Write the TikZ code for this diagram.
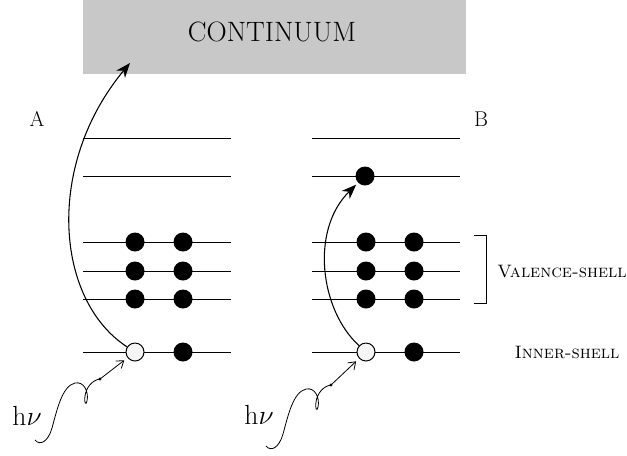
\documentclass[tikz,border=0pt]{standalone}
\usepackage{amsmath}
\usepackage{amssymb}
\usepackage{tikz}
\usetikzlibrary{arrows.meta}

\begin{document}
\begin{tikzpicture}[x=0.75pt,y=0.75pt,yscale=-1,xscale=1,
  level/.style={line width=0.6pt},
  electron/.style={circle,fill=black,inner sep=0pt,minimum size=14.25pt},
  hole/.style={circle,draw=black,fill=white!96!black,line width=0.75pt,inner sep=0pt,minimum size=13.5pt},
  jump/.style={line width=0.8pt,-{Stealth[length=11pt,width=8.5pt,inset=3.5pt]}},
  photon/.style={line width=0.6pt}]
\path[use as bounding box] (0,0) rectangle (627,455);

%Continuum
\fill [color={rgb, 255:red, 200; green, 200; blue, 200 }] (83,0) rectangle (466,74);
\node (cont) at (272,32) [font=\fontsize{21}{24}\selectfont] {CONTINUUM};

% Labels
\node (labA) at (37,119) [font=\fontsize{16}{18}\selectfont] {A};
\node (labB) at (481,119) [font=\fontsize{16}{18}\selectfont] {B};

%Levels
\foreach \y in {138,176,242,271,299,352} {
  \draw [level] (83,\y) -- (231,\y);
  \draw [level] (312,\y) -- (460,\y);
}

%Electrons
\foreach \y [count=\i] in {242,271,299} {
  \node [electron] (a\i l) at (135,\y) {};
  \node [electron] (a\i r) at (183,\y) {};
  \node [electron] (b\i l) at (366,\y) {};
  \node [electron] (b\i r) at (414,\y) {};
}
\node [hole] (holeA) at (135,352) {};
\node [electron] (innA) at (183,352) {};
\node [hole] (holeB) at (366,352) {};
\node [electron] (innB) at (414,352) {};
\node [electron] (excB) at (365,176) {};

%Bracket
\draw [line width=0.6pt] (474,235) -- (486,235) -- (486,303) -- (474,303);
\node (val) at (562,272) [font=\fontsize{13.5}{16}\selectfont] {\textsc{Valence-shell}};
\node (inn) at (567,352) [font=\fontsize{13.5}{16}\selectfont] {\textsc{Inner-shell}};

%Transitions
\coordinate (tipA) at (130,63);
\draw [jump] (holeA) .. controls (55,300) and (45,165) .. (tipA);
\draw [jump, shorten >=2pt] (holeB) .. controls (320,310) and (310,230) .. (excB);

%Photons
\node (hvA) at (27,416) [font=\fontsize{22}{24}\selectfont] {$\mathrm{h}\nu$};
\node (hvB) at (259,415) [font=\fontsize{22}{24}\selectfont] {$\mathrm{h}\nu$};
\coordinate (phA) at (35,440);
\draw [photon] (phA) .. controls (40,446) and (48,442) .. (52,428) .. controls (57,410) and (62,386) .. (75,383) .. controls (84,381) and (89,392) .. (87,401) .. controls (86,406) and (84,403) .. (85,396) .. controls (86,388) and (92,380) .. (100,379) coordinate (kinkA);
\fill (kinkA) circle (1.6);
\draw [photon,-{Straight Barb[length=5pt,width=7pt]},shorten >=3pt] (kinkA) -- (holeA);
\coordinate (phB) at (266,446);
\draw [photon] (phB) .. controls (271,452) and (279,448) .. (283,434) .. controls (288,416) and (293,392) .. (306,389) .. controls (315,387) and (320,398) .. (318,407) .. controls (317,412) and (315,409) .. (316,402) .. controls (317,394) and (323,386) .. (331,385) coordinate (kinkB);
\fill (kinkB) circle (1.6);
\draw [photon,-{Straight Barb[length=5pt,width=7pt]},shorten >=3pt] (kinkB) -- (holeB);
\end{tikzpicture}
\end{document}
